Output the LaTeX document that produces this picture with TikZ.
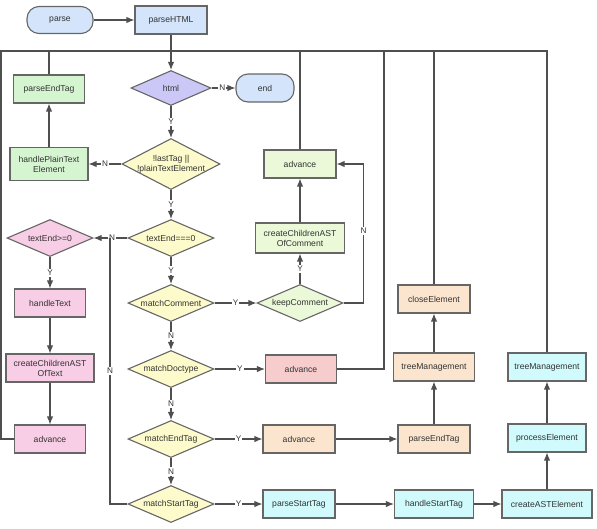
\documentclass[tikz,border=0pt]{standalone}
\usepackage{fontspec}
\setmainfont{Liberation Sans}
\usetikzlibrary{positioning, shapes.geometric, arrows.meta}

\definecolor{bluefill}{HTML}{D3E4FB}
\definecolor{lavfill}{HTML}{CBC8F7}
\definecolor{yelfill}{HTML}{FDFBCB}
\definecolor{grnfill}{HTML}{D5F5D0}
\definecolor{limefill}{HTML}{EBF9D8}
\definecolor{pinkfill}{HTML}{F8CDE6}
\definecolor{redfill}{HTML}{F6CCCC}
\definecolor{orgfill}{HTML}{FBE5CF}
\definecolor{cyanfill}{HTML}{D0FAFB}
\definecolor{edgegray}{HTML}{4F4F4F}
\definecolor{boxgray}{HTML}{666666}
\definecolor{textgray}{HTML}{333333}

\tikzset{
	box/.style = {rectangle, draw=boxgray, line width=1.1pt, minimum width=72pt,
		minimum height=28pt, align=center, inner sep=2pt, text=textgray,
		font=\fontsize{8.6}{10}\selectfont},
	term/.style = {box, rounded corners=12pt},
	test/.style = {box, diamond, aspect=2.3, inner sep=0pt, minimum width=86pt,
		minimum height=37pt, fill=yelfill},
	link/.style = {draw=edgegray, line width=1.2pt},
	flow/.style = {link, -{Latex[length=8pt, width=6.5pt]}},
	yn/.style = {fill=white, inner sep=1.2pt, text=textgray,
		font=\fontsize{8.2}{9}\selectfont},
}

\begin{document}
\begin{tikzpicture}[x=1pt, y=1pt, node distance = 70pt and 128pt, on grid]
	\useasboundingbox (0,0) rectangle (597,-528);

	\node (html) [test, fill=lavfill, minimum width=80pt, minimum height=35pt] at (171,-88) {html};
	\node (parsehtml) [box, fill=bluefill, above = 68pt of html] {parseHTML};
	\node (parse) [term, fill=bluefill, minimum width=66pt, minimum height=27pt, left = 111pt of parsehtml] {parse};
	\node (end) [term, fill=bluefill, minimum width=58pt, right = 94pt of html] {end};

	\node (lasttag) [test, minimum width=98pt, minimum height=51pt, aspect=2, inner sep=-4pt, below = 76pt of html]
		{!lastTag ||\\!plainTextElement};
	\node (plaintext) [box, fill=grnfill, minimum width=78pt, minimum height=33pt, left = 122pt of lasttag]
		{handlePlainText\\Element};
	\node (endtagA) [box, fill=grnfill, minimum width=71pt, above = 75pt of plaintext] {parseEndTag};

	\node (textend) [test, below = 74pt of lasttag] {textEnd===0};
	\node (textge) [test, fill=pinkfill, left = 121pt of textend] {textEnd>=0};
	\node (handletext) [box, fill=pinkfill, minimum width=71pt, below = 65pt of textge] {handleText};
	\node (childtext) [box, fill=pinkfill, minimum width=88pt, below = 65pt of handletext]
		{createChildrenAST\\OfText};
	\node (advtext) [box, fill=pinkfill, minimum width=71pt, below = 71pt of childtext] {advance};

	\node (comment) [test, below = 65pt of textend] {matchComment};
	\node (keep) [test, fill=limefill, right = 129pt of comment] {keepComment};
	\node (childcomment) [box, fill=limefill, minimum width=89pt, minimum height=30pt, above = 65pt of keep]
		{createChildrenAST\\OfComment};
	\node (advcomment) [box, fill=limefill, above = 74pt of childcomment] {advance};

	\node (doctype) [test, below = 66pt of comment] {matchDoctype};
	\node (advdoctype) [box, fill=redfill, minimum width=71pt, right = 130pt of doctype] {advance};

	\node (endtag) [test, below = 70pt of doctype] {matchEndTag};
	\node (advendtag) [box, fill=orgfill, right = 128pt of endtag] {advance};
	\node (endtagB) [box, fill=orgfill, right = 135pt of advendtag] {parseEndTag};
	\node (treeB) [box, fill=orgfill, minimum width=81pt, above = 72pt of endtagB] {treeManagement};
	\node (close) [box, fill=orgfill, above = 68pt of treeB] {closeElement};

	\node (starttag) [test, below = 65pt of endtag] {matchStartTag};
	\node (parsestart) [box, fill=cyanfill, right = 128pt of starttag] {parseStartTag};
	\node (handlestart) [box, fill=cyanfill, minimum width=79pt, right = 135pt of parsestart] {handleStartTag};
	\node (createast) [box, fill=cyanfill, minimum width=90pt, right = 113pt of handlestart] {createASTElement};
	\node (process) [box, fill=cyanfill, minimum width=78pt, above = 66pt of createast] {processElement};
	\node (treeC) [box, fill=cyanfill, minimum width=78pt, above = 71pt of process] {treeManagement};

	% back to the top of the loop
	\coordinate (top) at (171,-51);
	\coordinate (farleft) at (1,-51);
	\coordinate (midright) at (384,-51);
	\coordinate (join) at (110,-238);

	\draw[link] (advtext.west) -| (farleft) -- (top);
	\draw[link] (endtagA.north) |- (top);
	\draw[link] (advcomment.north) |- (top);
	\draw[link] (advdoctype.east) -| (midright) -- (top);
	\draw[link] (close.north) |- (top);
	\draw[link] (treeC.north) |- (top);

	\draw[flow] (parse) -- (parsehtml);
	\draw[flow] (parsehtml) -- (html);
	\draw[flow] (html) -- node[yn, pos=0.45] {N} (end);
	\draw[flow] (html) -- node[yn] {Y} (lasttag);
	\draw[flow] (lasttag) -- node[yn] {N} (plaintext);
	\draw[flow] (plaintext) -- (endtagA);
	\draw[flow] (lasttag) -- node[yn] {Y} (textend);
	\draw[flow] (textend) -- node[yn, pos=0.45] {N} (textge);
	\draw[flow] (textend) -- node[yn] {Y} (comment);

	\draw[flow] (textge) -- node[yn] {Y} (handletext);
	\draw[flow] (handletext) -- (childtext);
	\draw[flow] (childtext) -- (advtext);

	\draw[flow] (comment) -- node[yn] {Y} (keep);
	\draw[flow] (keep) -- node[yn] {Y} (childcomment);
	\draw[flow] (childcomment) -- (advcomment);
	\draw[flow] (keep.east) -- ++(20,0) |- node[yn, pos=0.26] {N} (advcomment.east);

	\draw[flow] (comment) -- node[yn] {N} (doctype);
	\draw[flow] (doctype) -- node[yn] {Y} (advdoctype);
	\draw[flow] (doctype) -- node[yn] {N} (endtag);
	\draw[flow] (endtag) -- node[yn] {Y} (advendtag);
	\draw[flow] (advendtag) -- (endtagB);
	\draw[flow] (endtagB) -- (treeB);
	\draw[flow] (treeB) -- (close);
	\draw[flow] (endtag) -- node[yn] {N} (starttag);

	\draw[flow] (starttag) -- node[yn] {Y} (parsestart);
	\draw[flow] (parsestart) -- (handlestart);
	\draw[flow] (handlestart) -- (createast);
	\draw[flow] (createast) -- (process);
	\draw[flow] (process) -- (treeC);
	\draw[link] (starttag.west) -| node[yn, pos=0.75] {N} (join);
\end{tikzpicture}
\end{document}
